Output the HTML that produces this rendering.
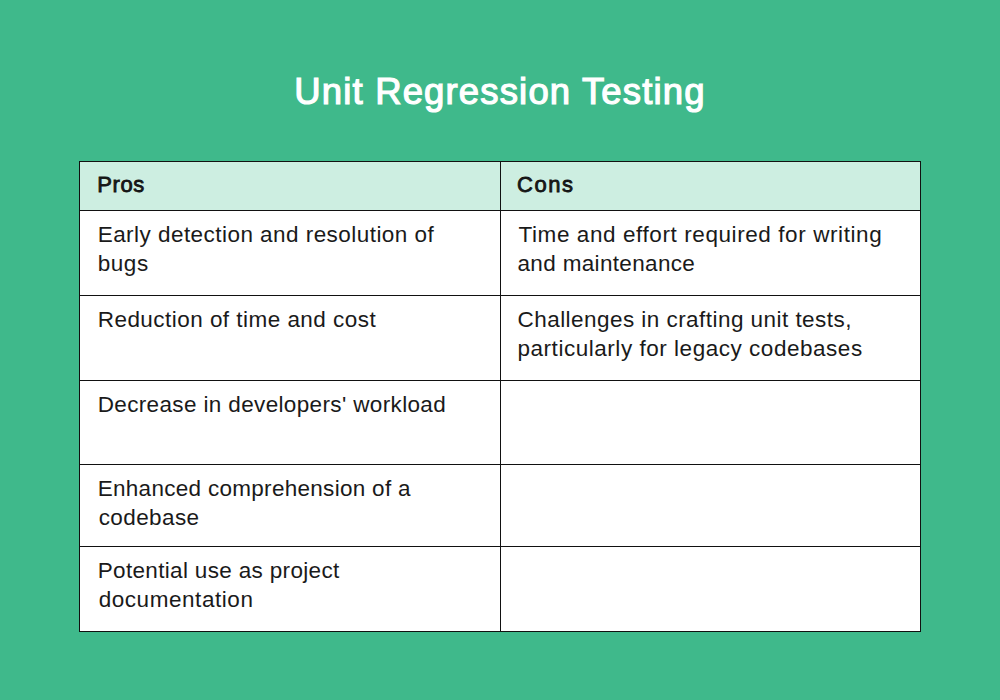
<!DOCTYPE html>
<html><head><meta charset="utf-8">
<style>
html,body{margin:0;padding:0;}
body{width:1000px;height:700px;background:#3fb98b;position:relative;overflow:hidden;font-family:"Liberation Sans",sans-serif;}
.t{position:absolute;white-space:nowrap;line-height:29px;font-size:22.5px;color:#1a1a1a;}
.h{font-weight:normal;font-size:22px;-webkit-text-stroke:0.8px #111;}
.title{position:absolute;left:0;width:1000px;text-align:center;top:70px;font-size:36.5px;letter-spacing:1.15px;font-weight:normal;-webkit-text-stroke:1.2px #fff;color:#fff;line-height:44px;white-space:nowrap;}
.box{position:absolute;background:#fff;border:1px solid #111;}
.hl{position:absolute;background:#111;height:1px;left:79px;width:842px;}
.vl{position:absolute;background:#111;width:1px;top:161px;height:471px;left:500px;}
.hdr{position:absolute;left:80px;top:162px;width:840px;height:48px;background:#cdeee1;}
</style></head><body>
<div class="title">Unit Regression Testing</div>
<div class="box" style="left:79px;top:161px;width:840px;height:469px;"></div>
<div class="hdr"></div>
<div class="hl" style="top:210px"></div>
<div class="hl" style="top:295px"></div>
<div class="hl" style="top:380px"></div>
<div class="hl" style="top:464px"></div>
<div class="hl" style="top:546px"></div>
<div class="vl"></div>
<div class="t h" style="left:97.2px;top:170px;letter-spacing:0.65px">Pros</div>
<div class="t h" style="left:517px;top:170px;letter-spacing:1.55px">Cons</div>
<div class="t" style="left:97.70px;top:219.7px;letter-spacing:0.456px">Early detection and resolution of</div>
<div class="t" style="left:97.70px;top:248.7px;letter-spacing:0.567px">bugs</div>
<div class="t" style="left:518.50px;top:219.7px;letter-spacing:0.586px">Time and effort required for writing</div>
<div class="t" style="left:517.50px;top:248.7px;letter-spacing:0.336px">and maintenance</div>
<div class="t" style="left:97.70px;top:304.7px;letter-spacing:0.464px">Reduction of time and cost</div>
<div class="t" style="left:517.50px;top:304.7px;letter-spacing:0.455px">Challenges in crafting unit tests,</div>
<div class="t" style="left:517.50px;top:333.7px;letter-spacing:0.531px">particularly for legacy codebases</div>
<div class="t" style="left:97.70px;top:389.7px;letter-spacing:0.358px">Decrease in developers' workload</div>
<div class="t" style="left:97.70px;top:473.7px;letter-spacing:0.292px">Enhanced comprehension of a</div>
<div class="t" style="left:98.70px;top:502.7px;letter-spacing:0.400px">codebase</div>
<div class="t" style="left:97.70px;top:555.7px;letter-spacing:0.335px">Potential use as project</div>
<div class="t" style="left:98.70px;top:584.7px;letter-spacing:0.550px">documentation</div>
</body></html>
